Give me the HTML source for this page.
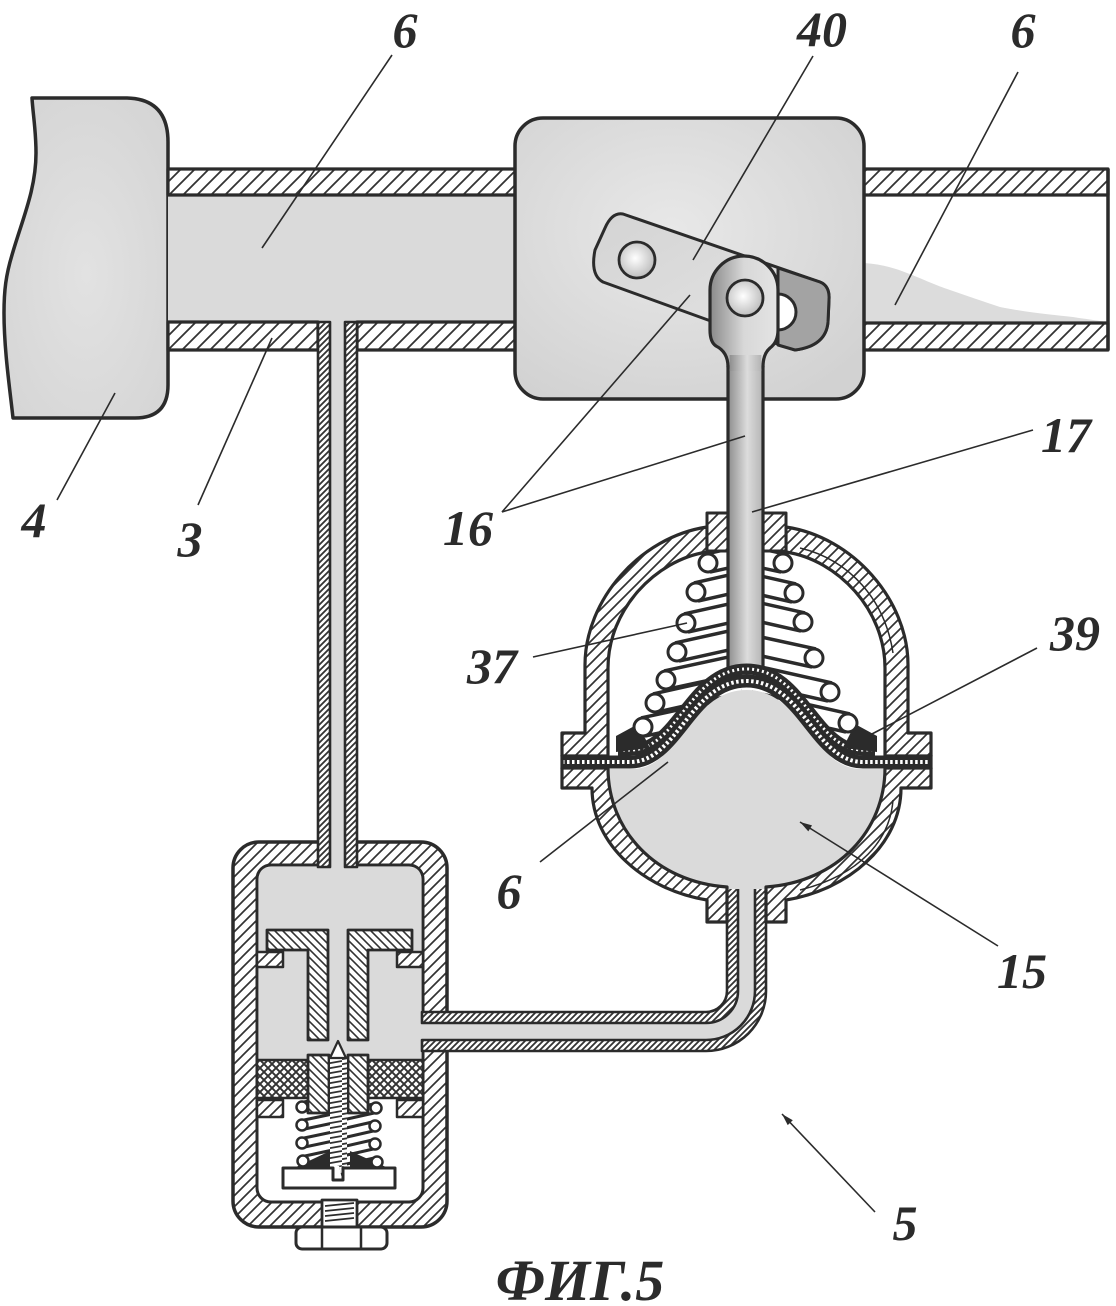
<!DOCTYPE html>
<html><head><meta charset="utf-8">
<style>
html,body{margin:0;padding:0;background:#fff;}
svg{display:block;}
text{font-family:"Liberation Serif",serif;font-weight:bold;font-style:italic;fill:#2b2b2b;}
</style></head><body>
<svg width="1116" height="1306" viewBox="0 0 1116 1306" xmlns="http://www.w3.org/2000/svg">
<defs>
<pattern id="hp" width="14" height="14" patternUnits="userSpaceOnUse"><rect width="14" height="14" fill="#fff"/><path d="M0 14L14 0M-3 3L3 -3M11 17L17 11" stroke="#333" stroke-width="1.8"/></pattern>
<pattern id="hw" width="11" height="11" patternUnits="userSpaceOnUse"><rect width="11" height="11" fill="#fff"/><path d="M0 11L11 0M-3 3L3 -3M8 14L14 8" stroke="#333" stroke-width="1.7"/></pattern>
<pattern id="hb" width="8" height="8" patternUnits="userSpaceOnUse"><rect width="8" height="8" fill="#fff"/><path d="M0 0L8 8M-2 6L2 10M6 -2L10 2" stroke="#333" stroke-width="1.6"/></pattern>
<pattern id="hs" width="6" height="6" patternUnits="userSpaceOnUse"><rect width="6" height="6" fill="#fff"/><path d="M0 6L6 0M-2 2L2 -2M4 8L8 4" stroke="#333" stroke-width="1.8"/></pattern>
<pattern id="xh" width="8" height="8" patternUnits="userSpaceOnUse"><rect width="8" height="8" fill="#fff"/><path d="M0 8L8 0M0 0L8 8M-2 2L2 -2M6 10L10 6M-2 6L2 10M6 -2L10 2" stroke="#333" stroke-width="1.9"/></pattern>
<pattern id="spr" width="18" height="5" patternUnits="userSpaceOnUse"><rect width="18" height="5" fill="#fff"/><path d="M0 4.2L18 1" stroke="#333" stroke-width="1.8"/></pattern>
<radialGradient id="boxg" cx="0.45" cy="0.4" r="0.7"><stop offset="0" stop-color="#e8e8e8"/><stop offset="1" stop-color="#d2d2d2"/></radialGradient>
<radialGradient id="blk" cx="0.5" cy="0.55" r="0.7"><stop offset="0" stop-color="#e2e2e2"/><stop offset="1" stop-color="#d4d4d4"/></radialGradient>
<radialGradient id="pin" cx="0.45" cy="0.45" r="0.6"><stop offset="0" stop-color="#ffffff"/><stop offset="1" stop-color="#b8b8b8"/></radialGradient>
<linearGradient id="rodg" x1="0" y1="0" x2="1" y2="0"><stop offset="0" stop-color="#8e8e8e"/><stop offset="0.55" stop-color="#dcdcdc"/><stop offset="1" stop-color="#b4b4b4"/></linearGradient>
<linearGradient id="headg" x1="0" y1="0" x2="1" y2="0"><stop offset="0" stop-color="#8a8a8a"/><stop offset="0.5" stop-color="#d8d8d8"/><stop offset="1" stop-color="#e4e4e4"/></linearGradient>
<linearGradient id="plg" x1="0" y1="0" x2="1" y2="1"><stop offset="0" stop-color="#d4d4d4"/><stop offset="1" stop-color="#e4e4e4"/></linearGradient>
<marker id="ah" viewBox="0 0 12 8" refX="12" refY="4" markerWidth="13" markerHeight="8" markerUnits="userSpaceOnUse" orient="auto"><path d="M0 0.5L12 4L0 7.5Z" fill="#2b2b2b"/></marker>
</defs>

<g stroke-linejoin="round">
<!-- Block 4 -->
<path d="M32 98 L125 98 Q168 98 168 142 L168 385 Q168 418 135 418 L13 418 C10 390 4 350 4 313 C4 290 6 275 12 255 C22 220 36 190 36 153 C36 130 33 115 32 98 Z" fill="url(#blk)" stroke="#2b2b2b" stroke-width="3.5"/>

<!-- Left main pipe -->
<rect x="168" y="195" width="350" height="127" fill="#dadada"/>
<rect x="168" y="169" width="350" height="26" fill="url(#hp)" stroke="#2b2b2b" stroke-width="3.2"/>
<rect x="168" y="322" width="150" height="28" fill="url(#hp)" stroke="#2b2b2b" stroke-width="3.2"/>
<rect x="357" y="322" width="161" height="28" fill="url(#hp)" stroke="#2b2b2b" stroke-width="3.2"/>

<!-- Right main pipe -->
<rect x="863" y="195" width="245" height="128" fill="#fff"/>
<path d="M864 323 L864 263 C880 264 895 268 907 273 C925 280 935 285 950 290 C970 297 985 302 1000 307 C1030 313 1055 315 1073 317 C1085 319 1095 320 1106 322 L1106 323 Z" fill="#dcdcdc"/>
<rect x="863" y="169" width="245" height="26" fill="url(#hp)" stroke="#2b2b2b" stroke-width="3.2"/>
<rect x="863" y="323" width="245" height="27" fill="url(#hp)" stroke="#2b2b2b" stroke-width="3.2"/>
<path d="M1108 169 L1108 350" stroke="#2b2b2b" stroke-width="3.5"/>

<!-- Box -->
<rect x="515" y="118" width="349" height="281" rx="28" fill="url(#boxg)" stroke="#2b2b2b" stroke-width="3.5"/>

<!-- Plate 40 -->
<path d="M623 214 L820 282 Q830 286 829 300 L828 322 Q826 346 795 350 L708 320 L603 282 Q590 275 595 250 L605 228 Q612 212 623 214 Z" fill="url(#plg)" stroke="#2b2b2b" stroke-width="3"/>
<path d="M778 268 L820 282 Q830 286 829 300 L828 322 Q826 346 795 350 L778 345 Z" fill="#a3a3a3" stroke="#2b2b2b" stroke-width="3"/>
<path d="M778 294 A18 18 0 0 1 778 330 Z" fill="#fff" stroke="#2b2b2b" stroke-width="3"/>
<circle cx="637" cy="260" r="18" fill="url(#pin)" stroke="#2b2b2b" stroke-width="2.8"/>

<!-- Valve chamber (bottom-left) -->
<rect x="233" y="842" width="214" height="385" rx="26" fill="url(#hw)" stroke="#2b2b2b" stroke-width="3.5"/>
<rect x="257" y="865" width="166" height="337" rx="14" fill="#fff" stroke="#2b2b2b" stroke-width="3"/>
<path d="M259 930 L259 879 Q259 867 271 867 L409 867 Q421 867 421 879 L421 930 Z" fill="#dadada"/>
<rect x="259" y="928" width="162" height="132" fill="#dadada"/>
<rect x="257" y="952" width="26" height="15" fill="url(#hw)" stroke="#2b2b2b" stroke-width="2.5"/>
<rect x="397" y="952" width="26" height="15" fill="url(#hw)" stroke="#2b2b2b" stroke-width="2.5"/>
<rect x="257" y="1060" width="51" height="38" fill="url(#xh)" stroke="#2b2b2b" stroke-width="2.5"/>
<rect x="368" y="1060" width="55" height="38" fill="url(#xh)" stroke="#2b2b2b" stroke-width="2.5"/>
<rect x="257" y="1100" width="26" height="17" fill="url(#hw)" stroke="#2b2b2b" stroke-width="2.5"/>
<rect x="397" y="1100" width="26" height="17" fill="url(#hw)" stroke="#2b2b2b" stroke-width="2.5"/>
<g stroke-linecap="butt" fill="none">
<path d="M302 1107 L340 1099 M376 1108 L340 1116 M302 1125 L340 1117 M375 1126 L340 1134 M302 1143 L340 1135 M375 1144 L340 1152 M303 1161 L340 1153 M377 1162 L340 1170" stroke="#2b2b2b" stroke-width="12"/>
<path d="M302 1107 L340 1099 M376 1108 L340 1116 M302 1125 L340 1117 M375 1126 L340 1134 M302 1143 L340 1135 M375 1144 L340 1152 M303 1161 L340 1153 M377 1162 L340 1170" stroke="#fff" stroke-width="6"/>
</g>
<path d="M296 1167 L330 1151 L330 1167 Z M350 1151 L386 1167 L350 1167 Z" fill="#2b2b2b"/>
<g fill="#fff" stroke="#2b2b2b" stroke-width="2.5">
<circle cx="302" cy="1107" r="5.5"/><circle cx="302" cy="1125" r="5.5"/><circle cx="302" cy="1143" r="5.5"/><circle cx="303" cy="1161" r="5.5"/>
<circle cx="376" cy="1108" r="5.5"/><circle cx="375" cy="1126" r="5.5"/><circle cx="375" cy="1144" r="5.5"/><circle cx="377" cy="1162" r="5.5"/>
</g>
<path d="M267 930 L328 930 L328 1040 L308 1040 L308 950 L267 950 Z" fill="url(#hb)" stroke="#2b2b2b" stroke-width="2.8"/>
<path d="M348 930 L412 930 L412 950 L368 950 L368 1040 L348 1040 Z" fill="url(#hb)" stroke="#2b2b2b" stroke-width="2.8"/>
<rect x="308" y="1055" width="21" height="58" fill="url(#hb)" stroke="#2b2b2b" stroke-width="2.8"/>
<rect x="348" y="1055" width="20" height="58" fill="url(#hb)" stroke="#2b2b2b" stroke-width="2.8"/>
<rect x="330" y="1058" width="17" height="108" fill="url(#spr)"/>
<path d="M330 1058 L338 1041 L346 1058 Z" fill="#fff" stroke="#2b2b2b" stroke-width="2.2"/>
<path d="M283 1168 L333 1168 L333 1180 L343 1180 L343 1168 L395 1168 L395 1188 L283 1188 Z" fill="#fff" stroke="#2b2b2b" stroke-width="3"/>
<rect x="322" y="1200" width="35" height="27" fill="#fff" stroke="#2b2b2b" stroke-width="2.8"/>
<path d="M325 1206 L354 1203 M325 1211 L354 1208 M325 1216 L354 1213 M325 1221 L354 1218" stroke="#2b2b2b" stroke-width="1.8"/>
<rect x="296" y="1227" width="91" height="22" rx="6" fill="#fff" stroke="#2b2b2b" stroke-width="3"/>
<path d="M322 1227 L322 1249 M361 1227 L361 1249" stroke="#2b2b2b" stroke-width="2.5"/>

<!-- Small vertical pipe -->
<rect x="330" y="322" width="15" height="546" fill="#dadada"/>
<rect x="318" y="322" width="12" height="545" fill="url(#hs)" stroke="#2b2b2b" stroke-width="2.6"/>
<rect x="345" y="322" width="12" height="545" fill="url(#hs)" stroke="#2b2b2b" stroke-width="2.6"/>
<rect x="331.5" y="348" width="12" height="522" fill="#dadada"/>

<!-- Elbow pipe -->
<path d="M421 1023 L706 1023 A32 32 0 0 0 738 991 L738 880 L755 880 L755 991 A49 49 0 0 1 706 1040 L421 1040 Z" fill="#dadada"/>
<path d="M422 1012 L706 1012 A21 21 0 0 0 727 991 L727 884 L738 884 L738 991 A32 32 0 0 1 706 1023 L422 1023 Z" fill="url(#hs)" stroke="#2b2b2b" stroke-width="2.6"/>
<path d="M422 1040 L706 1040 A49 49 0 0 0 755 991 L755 884 L766 884 L766 991 A60 60 0 0 1 706 1051 L422 1051 Z" fill="url(#hs)" stroke="#2b2b2b" stroke-width="2.6"/>

<!-- spring 37 bars (behind fluid) -->
<g fill="none" stroke-linecap="butt">
<path d="M708 563 L740 556 M696 592 L740 582 M686 623 L740 611 M677 652 L740 638 M666 680 L740 664 M655 703 L740 684 M643 727 L740 706 M783 563 L750 556 M794 593 L750 583 M803 622 L750 610 M814 658 L750 644 M830 692 L750 674 M848 723 L750 701" stroke="#2b2b2b" stroke-width="22"/>
<path d="M708 563 L740 556 M696 592 L740 582 M686 623 L740 611 M677 652 L740 638 M666 680 L740 664 M655 703 L740 684 M643 727 L740 706 M783 563 L750 556 M794 593 L750 583 M803 622 L750 610 M814 658 L750 644 M830 692 L750 674 M848 723 L750 701" stroke="#fff" stroke-width="15"/>
</g>

<!-- Diaphragm chamber -->
<path d="M606 769 L632 769 C680 769 690 690 746.5 690 C803 690 813 769 861 769 L887 769 C887 830 838 884 766 889 L727 889 C655 884 606 830 606 769 Z" fill="#dadada"/>
<path d="M585 733 L585 665 C585 600 640 537 707 527 L707 552 C655 560 608 610 608 668 L608 756 L562 756 L562 733 Z" fill="url(#hw)" stroke="#2b2b2b" stroke-width="3.2"/>
<path d="M908 733 L908 665 C908 600 853 537 786 527 L786 552 C838 560 885 610 885 668 L885 756 L931 756 L931 733 Z" fill="url(#hw)" stroke="#2b2b2b" stroke-width="3.2"/>
<path d="M893 653 C885 600 850 560 800 548" fill="none" stroke="#2b2b2b" stroke-width="1.5"/>
<path d="M562 768 L608 768 C608 830 655 882 727 887 L727 922 L707 922 L707 900 C645 890 592 845 592 788 L562 788 Z" fill="url(#hw)" stroke="#2b2b2b" stroke-width="3.2"/>
<path d="M931 768 L885 768 C885 830 838 882 766 887 L766 922 L786 922 L786 900 C848 890 901 845 901 788 L931 788 Z" fill="url(#hw)" stroke="#2b2b2b" stroke-width="3.2"/>
<path d="M893 800 C890 840 860 875 800 890" fill="none" stroke="#2b2b2b" stroke-width="1.5"/>
<rect x="739.5" y="878" width="14" height="30" fill="#dadada"/>

<!-- top bushing -->
<rect x="707" y="513" width="79" height="38" fill="url(#hw)" stroke="#2b2b2b" stroke-width="3"/>

<!-- Rod 16 -->
<rect x="728" y="362" width="35" height="312" fill="url(#rodg)"/>
<path d="M728 366 L728 674 M763 366 L763 674" stroke="#2b2b2b" stroke-width="3.2"/>
<path d="M728 367 Q728 352 716 346 Q710 342 710 330 L710 290 A34 34 0 0 1 778 290 L778 330 Q778 342 770 348 Q763 354 763 367 Z" fill="url(#headg)" stroke="#2b2b2b" stroke-width="3.2"/>
<rect x="729.6" y="355" width="31.8" height="16" fill="url(#rodg)"/>
<circle cx="745" cy="298" r="18" fill="url(#pin)" stroke="#2b2b2b" stroke-width="2.8"/>

<!-- Diaphragm and seat -->
<path d="M618 750 L630 750 C678 750 690 669 746.5 669 C803 669 815 750 863 750 L875 750" fill="none" stroke="#2b2b2b" stroke-width="11"/>
<path d="M618 750 L630 750 C678 750 690 669 746.5 669 C803 669 815 750 863 750 L875 750" fill="none" stroke="#fff" stroke-width="3" stroke-dasharray="2 3"/>
<path d="M616 752 L616 736 L638 724 L650 748 Z M877 752 L877 736 L855 724 L843 748 Z" fill="#2b2b2b"/>
<path d="M562 762 L630 762 C678 762 690 681 746.5 681 C803 681 815 762 863 762 L931 762" fill="none" stroke="#2b2b2b" stroke-width="13"/>
<path d="M562 762 L630 762 C678 762 690 681 746.5 681 C803 681 815 762 863 762 L931 762" fill="none" stroke="#fff" stroke-width="4" stroke-dasharray="2.5 2.5"/>
<path d="M562 755 L562 769 M931 755 L931 769" stroke="#2b2b2b" stroke-width="3.2"/>

<!-- spring circles -->
<g fill="#fff" stroke="#2b2b2b" stroke-width="3">
<circle cx="708" cy="563" r="9"/><circle cx="696" cy="592" r="9"/><circle cx="686" cy="623" r="9"/><circle cx="677" cy="652" r="9"/><circle cx="666" cy="680" r="9"/><circle cx="655" cy="703" r="9"/><circle cx="643" cy="727" r="9"/>
<circle cx="783" cy="563" r="9"/><circle cx="794" cy="593" r="9"/><circle cx="803" cy="622" r="9"/><circle cx="814" cy="658" r="9"/><circle cx="830" cy="692" r="9"/><circle cx="848" cy="723" r="9"/>
</g>
</g>

<!-- Leader lines -->
<g stroke="#2b2b2b" stroke-width="1.6" fill="none">
<path d="M392 55 L262 248"/>
<path d="M813 56 L693 260"/>
<path d="M1018 72 L895 305"/>
<path d="M57 500 L115 393"/>
<path d="M198 505 L272 338"/>
<path d="M502 512 L690 295"/>
<path d="M502 512 L745 436"/>
<path d="M1033 430 L752 512"/>
<path d="M1037 648 L870 735"/>
<path d="M533 657 L687 623"/>
<path d="M540 862 L668 762"/>
<path d="M998 946 L800 822" marker-end="url(#ah)"/>
<path d="M875 1212 L782 1114" marker-end="url(#ah)"/>
</g>

<!-- Labels -->
<g font-size="50" text-anchor="middle">
<text x="405" y="47">6</text>
<text x="822" y="46">40</text>
<text x="1023" y="47">6</text>
<text x="34" y="537">4</text>
<text x="190" y="556">3</text>
<text x="468" y="545">16</text>
<text x="1066" y="452">17</text>
<text x="492" y="683">37</text>
<text x="1075" y="650">39</text>
<text x="509" y="908">6</text>
<text x="1022" y="988">15</text>
<text x="905" y="1240">5</text>
</g>
<text x="580" y="1300" font-size="58" text-anchor="middle">ФИГ.5</text>
</svg>
</body></html>
